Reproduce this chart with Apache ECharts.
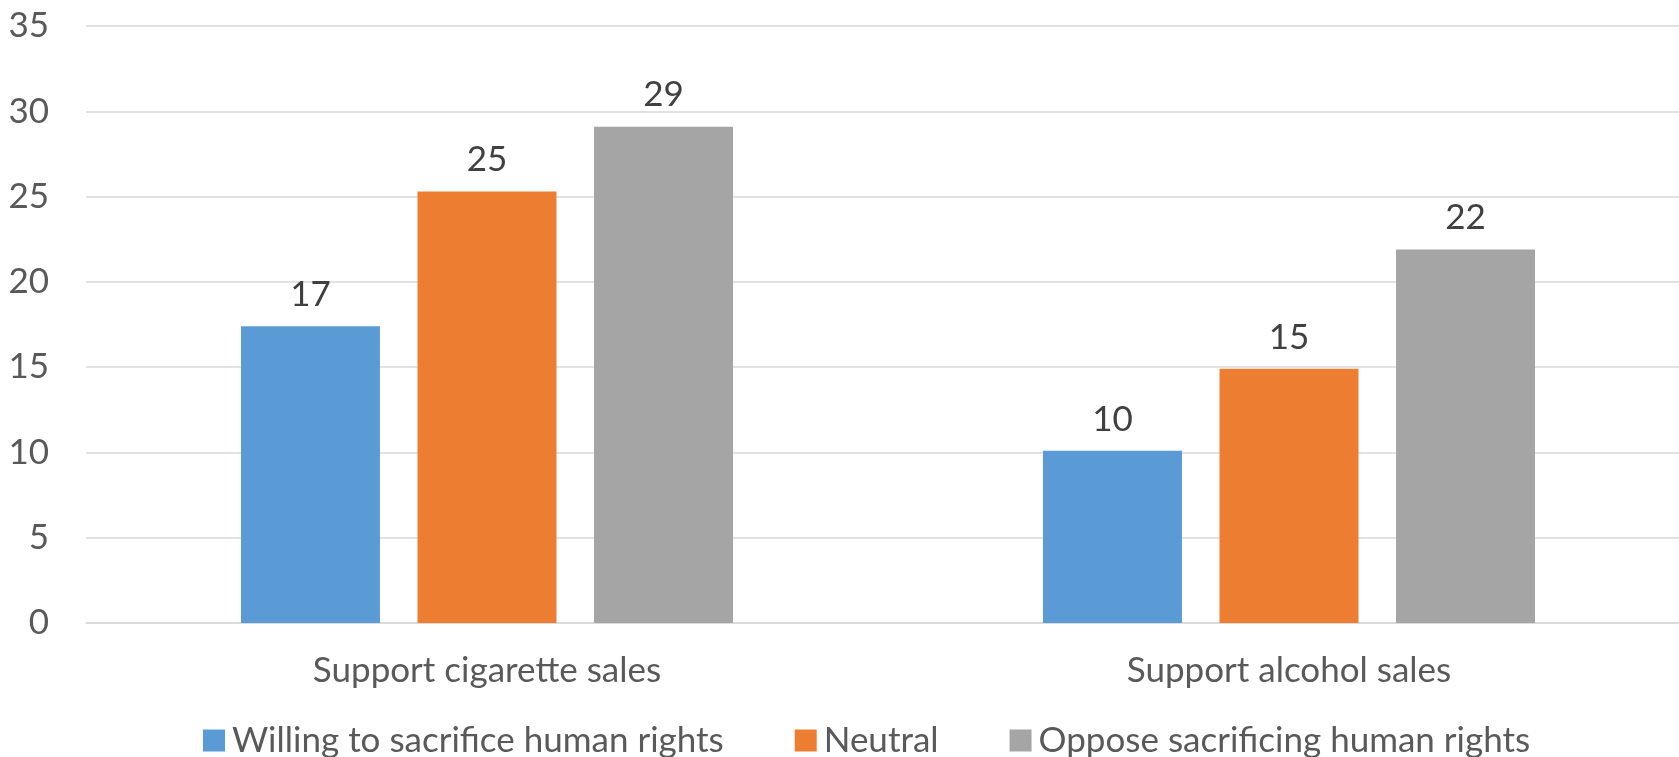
<!DOCTYPE html>
<html>
<head>
<meta charset="utf-8">
<script src="https://cdn.jsdelivr.net/npm/echarts@6/dist/echarts.min.js"></script>
<style>
  html, body { margin: 0; padding: 0; background: #ffffff; overflow: hidden; }
  #chart { width: 1690px; height: 757px; }
</style>
</head>
<body>
<div id="chart"></div>
<script>
const categories = ['Support cigarette sales', 'Support alcohol sales'];
const seriesNames = ['Willing to sacrifice human rights', 'Neutral', 'Oppose sacrificing human rights'];
const willingValues = [17.4, 10.1];
const neutralValues = [25.3, 14.9];
const opposeValues = [29.1, 21.9];
const yTicks = { min: 0, max: 35, interval: 5 };
const colors = ['#5B9BD5', '#ED7D31', '#A5A5A5'];

const FONT = 'Lato';
const FS = 35;
const chart = echarts.init(document.getElementById('chart'), null, { renderer: 'canvas' });

function makeSeries(name, data, color) {
  return {
    name: name,
    type: 'bar',
    data: data,
    barWidth: 139,
    barGap: '27%',
    itemStyle: { color: color },
    label: {
      show: true,
      position: 'top',
      distance: 14,
      formatter: p => Math.round(p.value),
      color: '#404040',
      fontFamily: FONT,
      fontSize: FS
    }
  };
}

chart.setOption({
  backgroundColor: '#ffffff',
  animation: false,
  grid: { left: 86, right: 0, top: 26, bottom: 134 },
  legend: {
    data: seriesNames,
    left: 203,
    top: 723,
    padding: 0,
    icon: 'rect',
    itemWidth: 22,
    itemHeight: 22,
    itemGap: 71,
    textStyle: { color: '#595959', fontFamily: FONT, fontSize: FS, padding: [0, 0, 0, 2] }
  },
  xAxis: {
    type: 'category',
    data: categories,
    axisLine: { show: true, lineStyle: { color: '#d9d9d9', width: 1.5 } },
    axisTick: { show: false },
    axisLabel: { color: '#595959', fontFamily: FONT, fontSize: FS, margin: 30 },
    splitLine: { show: false }
  },
  yAxis: {
    type: 'value',
    min: yTicks.min,
    max: yTicks.max,
    interval: yTicks.interval,
    axisLine: { show: false },
    axisTick: { show: false },
    axisLabel: { color: '#595959', fontFamily: FONT, fontSize: FS, margin: 37 },
    splitLine: { show: true, lineStyle: { color: '#d9d9d9', width: 1.5 } }
  },
  series: [
    makeSeries(seriesNames[0], willingValues, colors[0]),
    makeSeries(seriesNames[1], neutralValues, colors[1]),
    makeSeries(seriesNames[2], opposeValues, colors[2])
  ]
});
</script>
</body>
</html>
